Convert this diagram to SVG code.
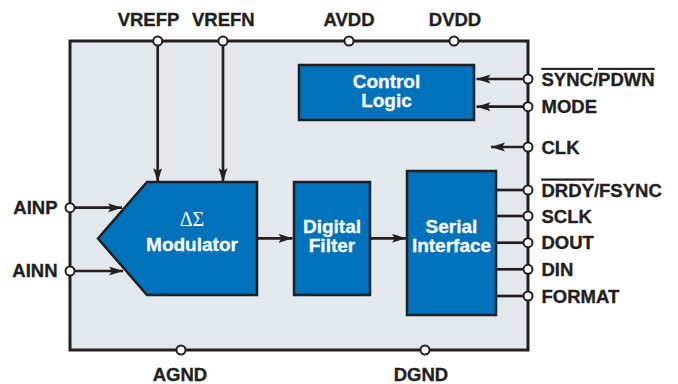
<svg xmlns="http://www.w3.org/2000/svg" width="678" height="384" viewBox="0 0 678 384">
<defs>
<marker id="ah" markerUnits="userSpaceOnUse" markerWidth="16" markerHeight="10" refX="14" refY="4.5" orient="auto">
<path d="M0,0 L14,4.5 L0,9 L3,4.5 z" fill="#231f20"/>
</marker>
<style>
.lbl{font-family:"Liberation Sans",Arial,sans-serif;font-weight:bold;font-size:18.5px;fill:#231f20;stroke:#231f20;stroke-width:0.35}
.blk{fill:#0071bb;stroke:#231f20;stroke-width:2.5}
.wt{font-family:"Liberation Sans",Arial,sans-serif;font-weight:bold;font-size:19px;fill:#ffffff;stroke:#ffffff;stroke-width:0.3;text-anchor:middle}
.wire{stroke:#231f20;stroke-width:2.7;fill:none}
.pin{fill:#ffffff;stroke:#231f20;stroke-width:2}
.ol{text-decoration:overline}
</style>
</defs>
<rect width="678" height="384" fill="#ffffff"/>
<g id="chip">
<rect x="70" y="41" width="458" height="309" fill="#e3e8ed" stroke="#231f20" stroke-width="3"/>
</g>
<g id="control-logic">
<rect class="blk" x="299" y="65" width="175" height="55"/>
<text class="wt" x="386.5" y="88">Control</text>
<text class="wt" x="386.5" y="107">Logic</text>
</g>
<g id="modulator">
<polygon class="blk" points="147,182 257,182 257,295 147,295 98,238.5"/>
<text x="192" y="226" font-family="Liberation Serif,Times New Roman,serif" font-size="20" fill="#ffffff" text-anchor="middle">ΔΣ</text>
<text class="wt" x="192" y="250.5">Modulator</text>
</g>
<g id="digital-filter">
<rect class="blk" x="294" y="182" width="76" height="113"/>
<text class="wt" x="332" y="232.5">Digital</text>
<text class="wt" x="332" y="251.5">Filter</text>
</g>
<g id="serial-interface">
<rect class="blk" x="407" y="171" width="89" height="144"/>
<text class="wt" x="451.5" y="232.5">Serial</text>
<text class="wt" x="451.5" y="251.5">Interface</text>
</g>
<g id="connectors">
<line class="wire" x1="157.7" y1="41" x2="157.7" y2="182" marker-end="url(#ah)"/>
<line class="wire" x1="223" y1="41" x2="223" y2="182" marker-end="url(#ah)"/>
<line class="wire" x1="70" y1="207.7" x2="122" y2="207.7" marker-end="url(#ah)"/>
<line class="wire" x1="70" y1="271" x2="123" y2="271" marker-end="url(#ah)"/>
<line class="wire" x1="257" y1="238.3" x2="292.5" y2="238.3" marker-end="url(#ah)"/>
<line class="wire" x1="370" y1="238.3" x2="406" y2="238.3" marker-end="url(#ah)"/>
<line class="wire" x1="528" y1="79" x2="476.5" y2="79" marker-end="url(#ah)"/>
<line class="wire" x1="528" y1="106.7" x2="476.5" y2="106.7" marker-end="url(#ah)"/>
<line class="wire" x1="528" y1="147" x2="491" y2="147" marker-end="url(#ah)"/>
<line class="wire" x1="496" y1="190" x2="528" y2="190"/>
<line class="wire" x1="496" y1="216" x2="528" y2="216"/>
<line class="wire" x1="496" y1="242.7" x2="528" y2="242.7"/>
<line class="wire" x1="496" y1="269.3" x2="528" y2="269.3"/>
<line class="wire" x1="496" y1="296" x2="528" y2="296"/>
</g>
<g id="pins">
<circle class="pin" cx="157.7" cy="41" r="4.5"/>
<circle class="pin" cx="223" cy="41" r="4.5"/>
<circle class="pin" cx="349" cy="41" r="4.5"/>
<circle class="pin" cx="454" cy="41" r="4.5"/>
<circle class="pin" cx="70" cy="207.7" r="4.5"/>
<circle class="pin" cx="70" cy="271" r="4.5"/>
<circle class="pin" cx="181" cy="350" r="4.5"/>
<circle class="pin" cx="425" cy="350" r="4.5"/>
<circle class="pin" cx="528" cy="79" r="4.5"/>
<circle class="pin" cx="528" cy="106.7" r="4.5"/>
<circle class="pin" cx="528" cy="147" r="4.5"/>
<circle class="pin" cx="528" cy="190" r="4.5"/>
<circle class="pin" cx="528" cy="216" r="4.5"/>
<circle class="pin" cx="528" cy="242.7" r="4.5"/>
<circle class="pin" cx="528" cy="269.3" r="4.5"/>
<circle class="pin" cx="528" cy="296" r="4.5"/>
</g>
<g id="labels">
<text class="lbl" x="148.5" y="26" text-anchor="middle">VREFP</text>
<text class="lbl" x="223.3" y="26" text-anchor="middle">VREFN</text>
<text class="lbl" x="349" y="26" text-anchor="middle">AVDD</text>
<text class="lbl" x="455" y="26" text-anchor="middle">DVDD</text>
<text class="lbl" x="57.5" y="213.5" text-anchor="end">AINP</text>
<text class="lbl" x="57.5" y="277" text-anchor="end">AINN</text>
<text class="lbl" x="180" y="381" text-anchor="middle">AGND</text>
<text class="lbl" x="421" y="381" text-anchor="middle">DGND</text>
<text class="lbl" x="541.5" y="86"><tspan class="ol">SYNC</tspan>/<tspan class="ol">PDWN</tspan></text>
<text class="lbl" x="541.5" y="113">MODE</text>
<text class="lbl" x="541.5" y="154">CLK</text>
<text class="lbl" x="541.5" y="196.7"><tspan class="ol">DRDY</tspan>/FSYNC</text>
<text class="lbl" x="541.5" y="222.7">SCLK</text>
<text class="lbl" x="541.5" y="249.3">DOUT</text>
<text class="lbl" x="541.5" y="276">DIN</text>
<text class="lbl" x="541.5" y="302.7">FORMAT</text>
</g>
</svg>
